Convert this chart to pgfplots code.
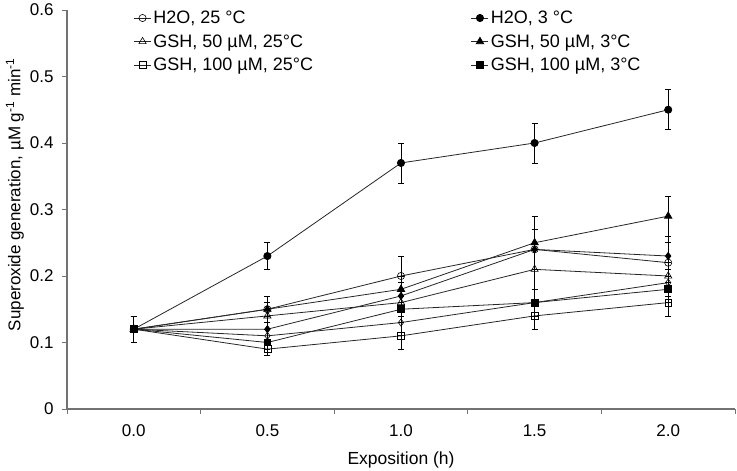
\documentclass[border=0pt]{standalone}
\usepackage{pgfplots}
\pgfplotsset{compat=1.18}
\usepackage{fontspec}
\setmainfont{Liberation Sans}
\pgfplotstableread{
x y e
0 0.12 0.02
0.5 0.15 0.02
1 0.20 0.03
1.5 0.24 0.03
2 0.22 0.03
}\hwarm
\pgfplotstableread{
x y e
0 0.12 0.02
0.5 0.23 0.02
1 0.37 0.03
1.5 0.40 0.03
2 0.45 0.03
}\hcold
\pgfplotstableread{
x y e
0 0.12 0.02
0.5 0.14 0.02
1 0.16 0.02
1.5 0.21 0.03
2 0.20 0.02
}\gfwarm
\pgfplotstableread{
x y e
0 0.12 0.02
0.5 0.15 0.02
1 0.18 0.02
1.5 0.25 0.04
2 0.29 0.03
}\gfcold
\pgfplotstableread{
x y e
0 0.12 0.02
0.5 0.09 0.01
1 0.11 0.02
1.5 0.14 0.02
2 0.16 0.02
}\ghwarm
\pgfplotstableread{
x y e
0 0.12 0.02
0.5 0.10 0.02
1 0.15 0.02
1.5 0.16 0.02
2 0.18 0.02
}\ghcold
\pgfplotstableread{
x y e
0 0.12 0.02
0.5 0.11 0.02
1 0.13 0.02
1.5 0.16 0.02
2 0.19 0.02
}\dopen
\pgfplotstableread{
x y e
0 0.12 0.02
0.5 0.12 0.02
1 0.17 0.02
1.5 0.24 0.03
2 0.23 0.03
}\dfill
\begin{document}
\begin{tikzpicture}
\begin{axis}[
  scale only axis, width=668bp, height=399bp,
  xmin=-0.25, xmax=2.25, ymin=0, ymax=0.6,
  axis lines*=left,
  axis line style={draw=black!55, line width=1.1bp},
  tick align=outside,
  major tick length=5bp,
  every tick/.style={draw=black!55, line width=0.9bp},
  xtick={-0.25,0.25,0.75,1.25,1.75,2.25},
  xticklabels={},
  extra x ticks={0,0.5,1,1.5,2},
  extra x tick labels={0.0,0.5,1.0,1.5,2.0},
  extra x tick style={major tick length=0pt, xticklabel style={yshift=-12bp}},
  ytick={0,0.1,0.2,0.3,0.4,0.5,0.6},
  yticklabel style={/pgf/number format/.cd, fixed, precision=1, /tikz/.cd, xshift=-5bp},
  /pgf/number format/assume math mode=true,
  tick label style={font=\fontsize{17bp}{20bp}\selectfont, text=black},
  xlabel={Exposition (h)},
  ylabel={Superoxide generation, µM g\textsuperscript{-1} min\textsuperscript{-1}},
  every axis x label/.style={at={(axis description cs:0.5,-0.128)}, anchor=center, font=\fontsize{17.5bp}{20bp}\selectfont},
  every axis y label/.style={at={(axis description cs:-0.078,0.537)}, rotate=90, anchor=center, font=\fontsize{17bp}{20bp}\selectfont},
  legend columns=2,
  legend cell align=left,
  legend style={draw=none, fill=none, at={(axis description cs:0.095,1.008)}, anchor=north west,
    font=\fontsize{18bp}{20bp}\selectfont, row sep=5.5bp,
    /tikz/every even column/.append style={column sep=156bp}},
  every axis plot/.append style={line width=0.8bp, draw=black!85},
  error bars/y dir=both, error bars/y explicit,
  error bars/error mark options={rotate=90, mark size=3bp, line width=0.7bp, black},
  error bars/error bar style={line width=0.7bp, black},
]
\addplot[forget plot, mark=diamond, mark size=3.6bp, mark options={fill=white, draw=black, solid, line width=0.6bp}] table[x=x, y=y, y error=e] {\dopen};
\addplot[forget plot, mark=diamond*, mark size=3.6bp, mark options={fill=black, draw=black, solid}] table[x=x, y=y, y error=e] {\dfill};
\addplot[mark=o, mark size=3.6bp, mark options={fill=white, draw=black, solid, line width=0.6bp}] table[x=x, y=y, y error=e] {\hwarm};
\addlegendentry{H2O, 25 °C}
\addplot[mark=*, mark size=3.6bp, mark options={fill=black, draw=black, solid}] table[x=x, y=y, y error=e] {\hcold};
\addlegendentry{H2O, 3 °C}
\addplot[mark=triangle, mark size=4.2bp, mark options={fill=white, draw=black, solid, line width=0.6bp}] table[x=x, y=y, y error=e] {\gfwarm};
\addlegendentry{GSH, 50 µM, 25°C}
\addplot[mark=triangle*, mark size=4.2bp, mark options={fill=black, draw=black, solid}] table[x=x, y=y, y error=e] {\gfcold};
\addlegendentry{GSH, 50 µM, 3°C}
\addplot[mark=square, mark size=3.4bp, mark options={fill=white, draw=black, solid, line width=0.6bp}] table[x=x, y=y, y error=e] {\ghwarm};
\addlegendentry{GSH, 100 µM, 25°C}
\addplot[mark=square*, mark size=3.4bp, mark options={fill=black, draw=black, solid}] table[x=x, y=y, y error=e] {\ghcold};
\addlegendentry{GSH, 100 µM, 3°C}
\end{axis}
\pgfresetboundingbox
\path[use as bounding box] ([shift={(-67bp,-62bp)}]current axis.south west) rectangle ([shift={(2bp,10bp)}]current axis.north east);
\end{tikzpicture}
\end{document}
